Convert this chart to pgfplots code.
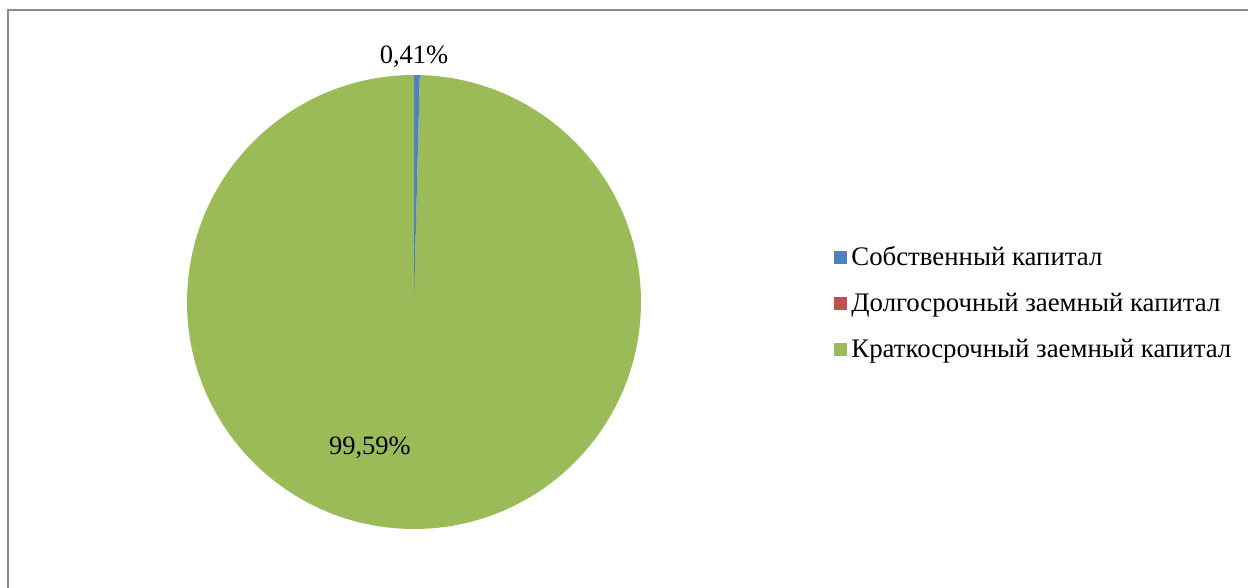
\documentclass[border=0pt]{standalone}
\usepackage{pgfplots}
\pgfplotsset{compat=1.18}
\usepackage{pgfplotstable}
\usepackage{fontspec}
\setmainfont{Liberation Serif}
\definecolor{cBlue}{HTML}{4F81BD}
\definecolor{cRed}{HTML}{C0504D}
\definecolor{cGreen}{HTML}{9BBB59}
\definecolor{cFrame}{HTML}{898989}

\pgfplotstableread{
idx value
0 0.41
1 0
2 99.59
}\piedata

\begin{document}%
\pgfplotstablegetelem{0}{value}\of\piedata\let\vA\pgfplotsretval%
\pgfplotstablegetelem{1}{value}\of\piedata\let\vB\pgfplotsretval%
\pgfplotstablegetelem{2}{value}\of\piedata\let\vC\pgfplotsretval%
\pgfmathsetmacro{\aA}{90}%
\pgfmathsetmacro{\aB}{90-3.6*\vA}%
\pgfmathsetmacro{\aC}{\aB-3.6*\vB}%
\pgfmathsetmacro{\aD}{\aC-3.6*\vC}%
\begin{tikzpicture}[x=1pt,y=1pt]
\begin{axis}[
  at={(414pt,285pt)}, anchor=center,
  scale only axis, width=454pt, height=454pt,
  xmin=-1, xmax=1, ymin=-1, ymax=1,
  hide axis, clip=false,
  legend image code/.code={\fill[#1] (0pt,-6pt) rectangle (12pt,6pt);},
  legend style={at={(1.417,0.498)}, anchor=west, draw=none, fill=none,
    font=\fontsize{26.8}{30}\selectfont, row sep=22pt,
    nodes={inner xsep=5.5pt}},
  legend cell align=left,
]
\addlegendimage{cBlue}
\addlegendentry{Собственный капитал}
\addlegendimage{cRed}
\addlegendentry{Долгосрочный заемный капитал}
\addlegendimage{cGreen}
\addlegendentry{Краткосрочный заемный капитал}
\fill[cGreen] (axis cs:0,0) -- (axis cs:{cos(\aC)},{sin(\aC)}) arc[start angle=\aC, end angle=\aD, radius=227pt] -- cycle;
\fill[cBlue] (axis cs:0,0) -- (axis cs:{cos(\aA)},{sin(\aA)}) arc[start angle=\aA, end angle=\aB, radius=227pt] -- cycle;
\node[font=\fontsize{26.5}{30}\selectfont] at (axis cs:0,1.079) {0,41\%};
\node[font=\fontsize{26.5}{30}\selectfont] at (axis cs:-0.194,-0.643) {99,59\%};
\end{axis}
\begin{scope}
\clip (0,0) rectangle (1248,587);
\draw[line width=2pt, cFrame] (8,-30) -- (8,577) -- (1270,577);
\end{scope}
\pgfresetboundingbox
\useasboundingbox (0,0) rectangle (1248,587);
\end{tikzpicture}%
\end{document}
